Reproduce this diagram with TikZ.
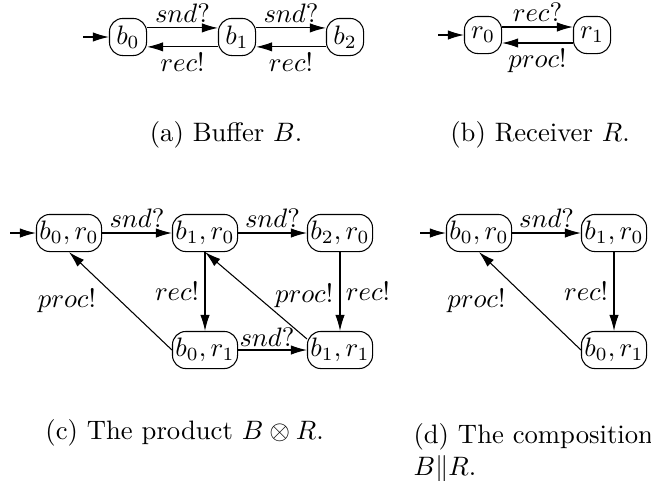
\documentclass[tikz,border=0pt]{standalone}
\usepackage{amsmath,amssymb}
\usepackage{tikz}
\usetikzlibrary{arrows.meta}

\begin{document}
\begin{tikzpicture}[x=0.375pt, y=-0.375pt, >={Latex[length=6pt,width=3.5pt]},
    state/.style={draw, rounded corners=5pt, minimum height=13.9pt, minimum width=13.9pt, inner sep=0.8pt},
    pair/.style={state, minimum width=24.4pt},
    lbl/.style={inner sep=2pt}]
    \useasboundingbox (0,0) rectangle (651,480);
    % (a) buffer
    \node[state] (b0) at (128,37) {$b_0$};
    \node[state] (b1) at (237,37) {$b_1$};
    \node[state] (b2) at (345,37) {$b_2$};
    \coordinate (ib) at (83,37);
    \draw[->] (ib) -- (b0);
    \draw[->] ([yshift=3.4pt]b0.east) -- node[above, lbl] {$snd?$} ([yshift=3.4pt]b1.west);
    \draw[->] ([yshift=3.4pt]b1.east) -- node[above, lbl] {$snd?$} ([yshift=3.4pt]b2.west);
    \draw[->] ([yshift=-3.7pt]b1.west) -- node[below, lbl] {$rec!$} ([yshift=-3.7pt]b0.east);
    \draw[->] ([yshift=-3.7pt]b2.west) -- node[below, lbl] {$rec!$} ([yshift=-3.7pt]b1.east);
    \node (capa) at (226,135) {(a) Buffer $B$.};
    % (b) receiver
    \node[state] (r0) at (483,35) {$r_0$};
    \node[state] (r1) at (592,35) {$r_1$};
    \coordinate (ir) at (438,35);
    \draw[->] (ir) -- (r0);
    \draw[->] ([yshift=3pt]r0.east) -- node[above, lbl] {$rec?$} ([yshift=3pt]r1.west);
    \draw[->] ([yshift=-3pt]r1.west) -- node[below, lbl] {$proc!$} ([yshift=-3pt]r0.east);
    \node (capb) at (540,135) {(b) Receiver $R$.};
    % (c) product
    \node[pair] (p00) at (69,233) {$b_0, r_0$};
    \node[pair] (p10) at (205,233) {$b_1, r_0$};
    \node[pair] (p20) at (340,233) {$b_2, r_0$};
    \node[pair] (p01) at (205,350) {$b_0, r_1$};
    \node[pair] (p11) at (340,350) {$b_1, r_1$};
    \coordinate (ip) at (10,233);
    \draw[->] (ip) -- (p00);
    \draw[->] (p00) -- node[above, lbl] {$snd?$} (p10);
    \draw[->] (p10) -- node[above, lbl] {$snd?$} (p20);
    \draw[->] (p10) -- node[left, lbl] {$rec!$} (p01);
    \draw[->] (p20) -- node[right, lbl] {$rec!$} (p11);
    \draw[->] (p01) -- node[above, lbl, pos=0.42, inner sep=1pt] {$snd?$} (p11);
    \draw[->] (p01.west) -- node[left, lbl, pos=0.5, xshift=-7pt] {$proc!$} (p00.south);
    \draw[->] ([yshift=-3pt]p11.north west) -- node[right, lbl, pos=0.5, xshift=5pt] {$proc!$} (p10.south);
    \node[anchor=west] (capc) at (36,433) {(c) The product $B\otimes R$.};
    % (d) composition
    \node[pair] (c00) at (479,233) {$b_0, r_0$};
    \node[pair] (c10) at (614,233) {$b_1, r_0$};
    \node[pair] (c01) at (614,350) {$b_0, r_1$};
    \coordinate (ic) at (420,233);
    \draw[->] (ic) -- (c00);
    \draw[->] (c00) -- node[above, lbl] {$snd?$} (c10);
    \draw[->] (c10) -- node[left, lbl] {$rec!$} (c01);
    \draw[->] (c01.west) -- node[left, lbl, pos=0.5, xshift=-7pt] {$proc!$} (c00.south);
    \node[anchor=north west, align=left, inner sep=0pt] (capd) at (413,423) {(d) The composition\\$B\|R$.};
\end{tikzpicture}
\end{document}
